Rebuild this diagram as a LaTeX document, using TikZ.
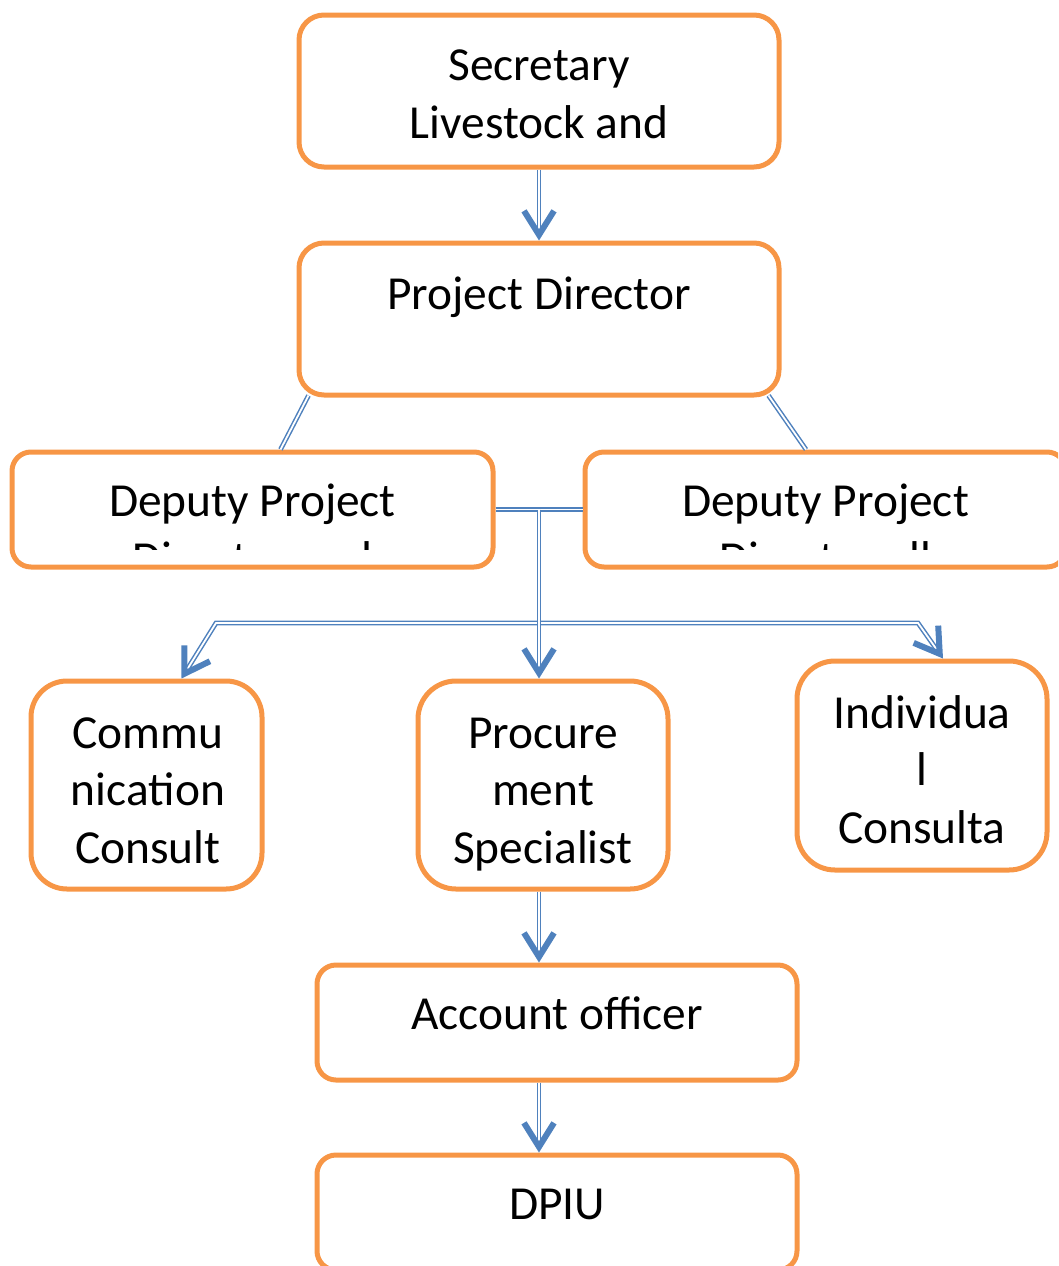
\documentclass[tikz,border=0pt]{standalone}
\usepackage{fontspec}
\setmainfont{Carlito}
\usetikzlibrary{arrows.meta,calc}
\definecolor{boxorange}{HTML}{F79646}
\definecolor{linkblue}{HTML}{4F81BD}
\tikzset{
  officebox/.style={draw=boxorange, line width=5pt, rounded corners=#1, minimum width=480pt, minimum height=115pt},
  officebox/.default=19pt,
  boxtext/.style={font=\fontsize{47.4pt}{57.5pt}\selectfont, align=center, anchor=base, inner sep=0pt},
  link/.style={draw=linkblue, line width=1.5pt, double=white, double distance=1.8pt},
  barb/.tip={Straight Barb[length=24pt,width=30pt,line width=6pt]},
  headed/.style={-barb}
}
\begin{document}
\begin{tikzpicture}[x=1pt,y=-1pt]
  \useasboundingbox (0,0) rectangle (1058,1266);
  \clip (0,0) rectangle (1058,1266);

  % boxes
  \node [officebox=25pt, minimum height=152pt] (sec) at (539,91) {};
  \node [officebox=25pt, minimum height=152pt] (pd) at (539,319) {};
  \node [officebox, minimum width=481pt] (dpl) at (252.5,509.5) {};
  \node [officebox, minimum width=481pt] (dpr) at (825.5,509.5) {};
  \node [officebox=36pt, minimum width=231pt, minimum height=208pt] (com) at (146.5,785) {};
  \node [officebox=38pt, minimum width=250pt, minimum height=208pt] (proc) at (543,785) {};
  \node [officebox=38pt, minimum width=250pt, minimum height=209pt] (ind) at (922,765.5) {};
  \node [officebox] (acc) at (557,1022.5) {};
  \node [officebox] (dpiu) at (557,1212.5) {};

  % texts (base = last line)
  \node [boxtext] (secText) at (539,138) {Secretary\\Livestock and};
  \node [boxtext] (pdText) at (539,309) {Project Director};
  \node [boxtext] (dplText) at (252.5,516) {Deputy Project};
  \node [boxtext] (dprText) at (825.5,516) {Deputy Project};
  \begin{scope}
    \clip (dpl.north west) rectangle ($(dpr.south east)+(0,-20)$);
    \node [boxtext] (dplMore) at (252.5,574) {Director and};
    \node [boxtext] (dprMore) at (825.5,574) {Director all};
  \end{scope}
  \node [boxtext] (comText) at (148,863) {Commu\\nication\\Consult};
  \node [boxtext] (procText) at (543,863) {Procure\\ment\\Specialist};
  \node [boxtext] (indText) at (922,843) {Individua\\l\\Consulta};
  \node [boxtext] (accText) at (557,1029) {Account officer};
  \node [boxtext] (dpiuText) at (557,1219) {DPIU};

  % connectors
  \coordinate (hub) at (dpl.east -| pd.south);
  \coordinate (brl) at (216,623);
  \coordinate (brr) at (918,623);
  \draw [link, headed] (sec.south) -- (pd.north);
  \draw [link] ($(pd.south west)+(12,-2)$) -- ($(dpl.north)+(28,0)$);
  \draw [link] ($(pd.south east)+(-13,-2)$) -- ($(dpr.north)+(-19.5,0)$);
  \draw [link] (dpl.east) -- (dpr.west);
  \draw [link, barb-barb] ($(com.north)+(35,0)$) -- (brl) -- (brr) -- ($(ind.north)+(21,0)$);
  \draw [link, headed] (hub) -- (hub |- proc.north);
  \draw [link, headed] (hub |- proc.south) -- (hub |- acc.north);
  \draw [link, headed] (hub |- acc.south) -- (hub |- dpiu.north);
\end{tikzpicture}
\end{document}
